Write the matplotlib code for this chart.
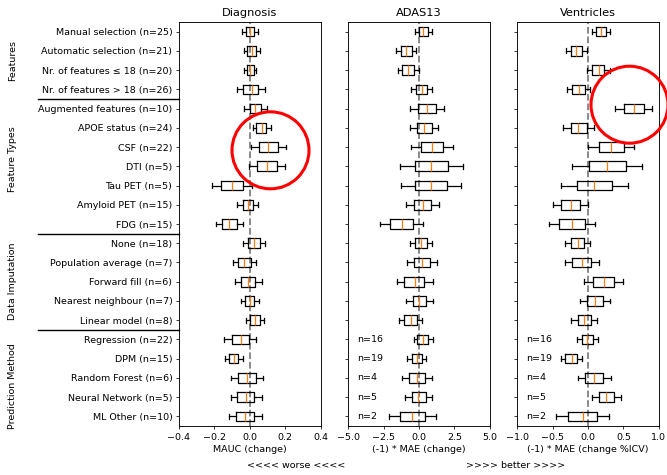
import matplotlib
matplotlib.use('Agg')
import matplotlib.pyplot as plt
from matplotlib.patches import Ellipse
from matplotlib.transforms import blended_transform_factory

# original figure looks like default style scaled down by ~0.68
s = 0.68
plt.rcParams['font.family'] = 'DejaVu Sans'
plt.rcParams['font.size'] = 10 * s
plt.rcParams['axes.linewidth'] = 0.8 * s * 1.2
plt.rcParams['xtick.major.size'] = 3.5 * s
plt.rcParams['ytick.major.size'] = 3.5 * s
plt.rcParams['xtick.major.pad'] = 3.5 * s
plt.rcParams['ytick.major.pad'] = 3.5 * s
plt.rcParams['xtick.major.width'] = 0.8 * s
plt.rcParams['ytick.major.width'] = 0.8 * s
plt.rcParams['axes.labelpad'] = 4 * s
plt.rcParams['axes.titlepad'] = 6 * s

labels = ['Manual selection (n=25)', 'Automatic selection (n=21)',
          'Nr. of features \u2264 18 (n=20)', 'Nr. of features > 18 (n=26)',
          'Augmented features (n=10)', 'APOE status (n=24)', 'CSF (n=22)',
          'DTI (n=5)', 'Tau PET (n=5)', 'Amyloid PET (n=15)', 'FDG (n=15)',
          'None (n=18)', 'Population average (n=7)', 'Forward fill (n=6)',
          'Nearest neighbour (n=7)', 'Linear model (n=8)',
          'Regression (n=22)', 'DPM (n=15)', 'Random Forest (n=6)',
          'Neural Network (n=5)', 'ML Other (n=10)']

groups = ['Features', 'Feature Types', 'Data Imputation', 'Prediction Method']

# (whisker low, q1, median, q3, whisker high)
diagnosis = [
    (-0.046, -0.024, 0.001, 0.025, 0.046),
    (-0.035, -0.014, 0.010, 0.035, 0.059),
    (-0.031, -0.018, 0.003, 0.022, 0.033),
    (-0.072, -0.037, 0.010, 0.048, 0.088),
    (-0.033, -0.001, 0.031, 0.063, 0.095),
    (0.016, 0.037, 0.067, 0.091, 0.118),
    (0.005, 0.052, 0.105, 0.157, 0.204),
    (-0.005, 0.042, 0.097, 0.152, 0.199),
    (-0.214, -0.161, -0.099, -0.040, 0.014),
    (-0.071, -0.040, -0.012, 0.020, 0.046),
    (-0.193, -0.157, -0.116, -0.074, -0.040),
    (-0.039, -0.008, 0.024, 0.059, 0.089),
    (-0.097, -0.065, -0.031, 0.007, 0.037),
    (-0.086, -0.050, -0.010, 0.031, 0.069),
    (-0.052, -0.029, -0.001, 0.025, 0.050),
    (-0.024, 0.003, 0.029, 0.056, 0.082),
    (-0.144, -0.099, -0.052, -0.007, 0.037),
    (-0.138, -0.116, -0.091, -0.065, -0.040),
    (-0.108, -0.065, -0.018, 0.033, 0.076),
    (-0.108, -0.071, -0.024, 0.025, 0.067),
    (-0.120, -0.076, -0.025, 0.024, 0.069),
]

adas13 = [
    (-0.32, -0.01, 0.30, 0.63, 0.89),
    (-1.60, -1.26, -0.91, -0.53, -0.22),
    (-1.50, -1.17, -0.79, -0.39, -0.01),
    (-0.58, -0.25, 0.18, 0.56, 0.91),
    (-0.63, -0.06, 0.56, 1.22, 1.78),
    (-0.63, -0.18, 0.37, 0.89, 1.36),
    (-0.56, 0.11, 0.91, 1.71, 2.40),
    (-1.38, -0.32, 0.86, 2.07, 3.13),
    (-1.26, -0.27, 0.82, 1.95, 2.94),
    (-0.89, -0.34, 0.25, 0.84, 1.41),
    (-2.73, -2.02, -1.22, -0.44, 0.25),
    (-0.67, -0.30, 0.13, 0.56, 0.93),
    (-0.86, -0.39, 0.20, 0.74, 1.24),
    (-1.57, -1.03, -0.30, 0.37, 0.98),
    (-0.91, -0.46, 0.01, 0.51, 0.96),
    (-1.41, -1.03, -0.58, -0.15, 0.22),
    (-0.39, -0.11, 0.30, 0.65, 0.96),
    (-0.86, -0.53, -0.18, 0.20, 0.48),
    (-1.24, -0.72, -0.15, 0.41, 0.91),
    (-0.96, -0.51, -0.04, 0.46, 0.89),
    (-2.14, -1.38, -0.48, 0.41, 1.17),
]

ventricles = [
    (0.050, 0.106, 0.177, 0.248, 0.314),
    (-0.314, -0.243, -0.168, -0.087, -0.021),
    (-0.017, 0.059, 0.149, 0.229, 0.305),
    (-0.300, -0.220, -0.130, -0.045, 0.031),
    (0.376, 0.504, 0.645, 0.787, 0.910),
    (-0.357, -0.248, -0.139, -0.021, 0.083),
    (-0.002, 0.154, 0.329, 0.504, 0.655),
    (-0.229, 0.007, 0.272, 0.537, 0.768),
    (-0.381, -0.163, 0.087, 0.338, 0.560),
    (-0.494, -0.376, -0.248, -0.116, 0.002),
    (-0.556, -0.404, -0.229, -0.050, 0.097),
    (-0.324, -0.248, -0.149, -0.059, 0.026),
    (-0.329, -0.220, -0.092, 0.035, 0.149),
    (-0.064, 0.064, 0.220, 0.371, 0.499),
    (-0.111, -0.012, 0.097, 0.206, 0.305),
    (-0.234, -0.149, -0.054, 0.040, 0.125),
    (-0.163, -0.092, -0.012, 0.064, 0.139),
    (-0.381, -0.319, -0.229, -0.154, -0.083),
    (-0.149, -0.045, 0.087, 0.210, 0.319),
    (0.054, 0.149, 0.258, 0.366, 0.461),
    (-0.452, -0.277, -0.078, 0.121, 0.300),
]

# n for prediction methods on ADAS13 / Ventricles
pred_n = [16, 19, 4, 5, 2]

titles = ['Diagnosis', 'ADAS13', 'Ventricles']
xlabels = ['MAUC (change)', '(-1) * MAE (change)', '(-1) * MAE (change %ICV)']
xlims = [(-0.4, 0.4), (-5, 5), (-1, 1)]
xticks = [[-0.4, -0.2, 0.0, 0.2, 0.4],
          [-5.0, -2.5, 0.0, 2.5, 5.0],
          [-1.0, -0.5, 0.0, 0.5, 1.0]]

W, H = 667, 475
fig = plt.figure(figsize=(W / 100, H / 100), dpi=100)

lefts = [179, 348.3, 517.3]
axes = []
line = dict(color='black', lw=0.9)
for i, data in enumerate([diagnosis, adas13, ventricles]):
    ax = fig.add_axes([lefts[i] / W, 1 - 426 / H, 141.5 / W, 404 / H])
    axes.append(ax)
    stats = []
    for lo, q1, med, q3, hi in data:
        stats.append({'whislo': lo, 'q1': q1, 'med': med, 'q3': q3, 'whishi': hi, 'fliers': []})
    pos = list(range(1, len(data) + 1))
    ax.axvline(0, color='gray', ls='--', lw=1.3, zorder=0)
    ax.bxp(stats, positions=pos, vert=False, widths=0.5, showfliers=False,
           boxprops=line, whiskerprops=line, capprops=line,
           medianprops=dict(color='#ff7f0e', lw=0.9))
    ax.set_ylim(len(data) + 0.5, 0.5)
    ax.set_xlim(*xlims[i])
    ax.set_xticks(xticks[i])
    ax.set_title(titles[i], fontsize=12 * s)
    ax.set_xlabel(xlabels[i])
    ax.set_yticks(pos)
    if i == 0:
        ax.set_yticklabels(labels)
    else:
        ax.set_yticklabels([])
        tr = blended_transform_factory(ax.transAxes, ax.transData)
        for k, n in enumerate(pred_n):
            ax.text(0.06, 17 + k, 'n=%d' % n, transform=tr, ha='left', va='center')

ax0 = axes[0]
sep_tr = blended_transform_factory(fig.transFigure, ax0.transData)
edges = [4.5, 11.5, 16.5]
for y in edges:
    ax0.plot([38 / W, 179 / W], [y, y], color='black', lw=1, transform=sep_tr, clip_on=False)

group_y = [2.5, 7.65, 14.0, 19.45]
for g, y in zip(groups, group_y):
    fig.text(12.5 / W, y, g, rotation=90, ha='center', va='center', transform=sep_tr)

fig.text(296 / W, 1 - 466 / H, '<<<< worse <<<<', ha='center', va='center')
fig.text(516 / W, 1 - 466 / H, '>>>> better >>>>', ha='center', va='center')

# highlight circles
for cx, cy in [(270.5, 150.3), (629.5, 104.7)]:
    fig.patches.append(Ellipse((cx / W, 1 - cy / H), 77 / W, 77 / H, fill=False,
                               edgecolor='red', lw=2.2, transform=fig.transFigure))

fig.savefig('out.png', dpi=100)
